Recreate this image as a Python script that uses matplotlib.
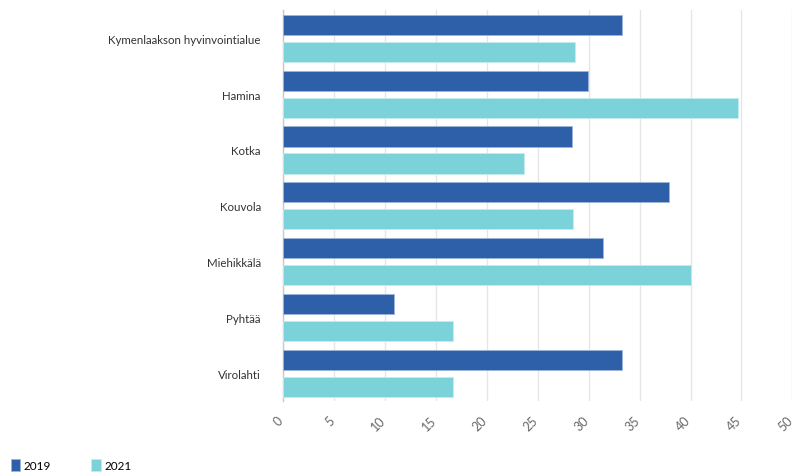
import matplotlib.pyplot as plt
import matplotlib.transforms as mtransforms
import numpy as np

categories = ['Kymenlaakson hyvinvointialue', 'Hamina', 'Kotka', 'Kouvola',
              'Miehikkälä', 'Pyhtää', 'Virolahti']
values_2019 = [33.3, 29.9, 28.4, 37.9, 31.4, 10.9, 33.3]
values_2021 = [28.7, 44.7, 23.7, 28.5, 40.0, 16.7, 16.7]
series_labels = ['2019', '2021']
x_ticks = [0, 5, 10, 15, 20, 25, 30, 35, 40, 45, 50]

col_2019 = '#2e60aa'
col_2021 = '#7bd2d8'

plt.rcParams['font.family'] = ['Lato', 'DejaVu Sans']

fig = plt.figure(figsize=(7.96, 4.77), dpi=100)
ax = fig.add_axes([0.3555, 0.157, 0.640, 0.819])

y = np.arange(len(categories))
h = 0.36
ax.barh(y - 0.242, values_2019, height=h, color=col_2019,
        edgecolor='#9db5dc', linewidth=0.6, label=series_labels[0], zorder=3)
ax.barh(y + 0.242, values_2021, height=h, color=col_2021,
        edgecolor='#c4ecee', linewidth=0.6, label=series_labels[1], zorder=3)

ax.set_ylim(len(categories) - 0.5, -0.5)
ax.set_xlim(0, 50)
ax.set_yticks(y)
ax.set_yticklabels(categories, fontsize=8.3, color='#333333')
ax.tick_params(axis='y', length=0, pad=16)

ax.set_xticks(x_ticks)
ax.set_xticklabels([str(t) for t in x_ticks], rotation=45, ha='right',
                   rotation_mode='anchor', fontsize=9, color='#666666')
ax.tick_params(axis='x', length=0, pad=9)
# nudge the slanted labels a little left of their gridlines
shift = mtransforms.ScaledTranslation(-6 / 100, 0, fig.dpi_scale_trans)
for lbl in ax.get_xticklabels():
    lbl.set_transform(lbl.get_transform() + shift)

ax.grid(axis='x', color='#e6e6e6', linewidth=1, zorder=0)
for s in ['top', 'right', 'bottom']:
    ax.spines[s].set_visible(False)
ax.spines['left'].set_color('#c8c8c8')
ax.spines['left'].set_linewidth(1)

fig.legend(loc='lower left', bbox_to_anchor=(0.0, -0.012), ncol=2,
           frameon=False, fontsize=8.5, handlelength=0.8, handleheight=1.1,
           handletextpad=0.3, columnspacing=3.4)

plt.savefig('out.png', dpi=100)
